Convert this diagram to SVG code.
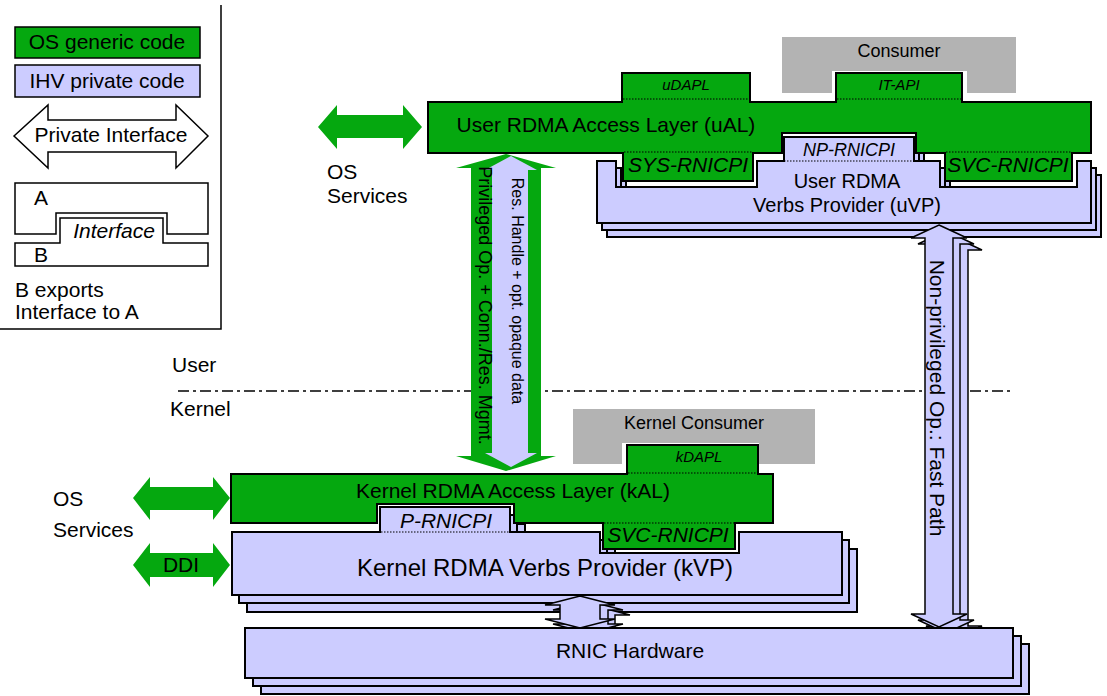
<svg xmlns="http://www.w3.org/2000/svg" width="1107" height="696" viewBox="0 0 1107 696">
  <style>
    text { font-family: "Liberation Sans", Arial, sans-serif; fill: #000; }
    .os { fill: #05a80f; stroke: #000; stroke-width: 2; }
    .ihv { fill: #ccccff; stroke: #000; stroke-width: 2; }
    .ihvs { fill: #ccccff; stroke: #000; stroke-width: 1.5; }
    .cons { fill: #b3b3b3; stroke: none; }
    .garrow { fill: #05a80f; stroke: none; }
    .larrow { fill: #ccccff; stroke: none; }
    .leg { stroke: #000; stroke-width: 1.5; }
    .dot { stroke: #000; stroke-width: 1.2; stroke-dasharray: 1.5 1.5; fill: none; }
    .t21 { font-size: 21px; }
    .t18 { font-size: 18px; }
    .t16 { font-size: 16px; }
    .t15 { font-size: 15px; }
    .mid { text-anchor: middle; }
    .it { font-style: italic; }
  </style>
  <defs>
    <path id="uvp" d="M597,161 H616 V187 H757 V161 H784 V137 H914 V161 H940 V187 H1077 V161 H1091 V223 H597 Z"/>
    <path id="kvp" d="M232,532 H380 V507 H510 V532 H600 V553 H739 V532 H842 V595 H232 Z"/>
    <rect id="rnic" x="245" y="628" width="768" height="50"/>
    <polygon id="fastpath" points="939,225 967,238 953,238 953,614 967,614 939,627 911,614 925,614 925,238 911,238"/>
    <polygon id="hwlink" points="580,596 615,605 600,605 600,619 615,619 580,628 545,619 560,619 560,605 545,605"/>
  </defs>

  <!-- legend -->
  <g id="legend">
    <path d="M221,5 V329 H0" fill="none" stroke="#000" stroke-width="1.5"/>
    <rect x="15" y="27" width="185" height="31" fill="#05a80f" class="leg"/>
    <text x="107" y="48.5" class="t21 mid">OS generic code</text>
    <rect x="15" y="65" width="185" height="32" fill="#ccccff" class="leg"/>
    <text x="107" y="87.5" class="t21 mid">IHV private code</text>
    <polygon points="14,136 48,105 48,120 176,120 176,105 208,136 176,168 176,152 48,152 48,168" fill="#fff" class="leg"/>
    <text x="111" y="142" class="t21 mid">Private Interface</text>
    <path d="M15,183 H208 V234 H167 V213 H56 V234 H15 Z" fill="#fff" class="leg"/>
    <path d="M15,243 H60 V218 H163 V243 H208 V266 H15 Z" fill="#fff" class="leg"/>
    <text x="34" y="205" class="t21">A</text>
    <text x="34" y="262" class="t21">B</text>
    <text x="114" y="238" class="t21 mid it">Interface</text>
    <text x="15" y="297" class="t21">B exports</text>
    <text x="15" y="319" class="t21">Interface to A</text>
  </g>

  <!-- user / kernel boundary -->
  <g id="boundary">
    <line x1="178" y1="391" x2="1010" y2="391" stroke="#000" stroke-width="1.5" stroke-dasharray="11 4 3 4"/>
    <text x="172" y="372" class="t21">User</text>
    <text x="170" y="416" class="t21">Kernel</text>
  </g>

  <!-- user space -->
  <g id="consumer">
    <path class="cons" d="M782,37 H1016 V93 H967 V71 H832 V93 H782 Z"/>
    <text x="899" y="57" class="t18 mid">Consumer</text>
  </g>

  <g id="uvp-node">
    <use href="#uvp" class="ihv" transform="translate(10,14)"/>
    <use href="#uvp" class="ihv" transform="translate(5,7)"/>
    <use href="#uvp" class="ihv"/>
    <line x1="784" y1="161" x2="914" y2="161" class="dot"/>
    <text x="849" y="156" class="t18 mid it">NP-RNICPI</text>
    <text x="847" y="188" class="mid" style="font-size:20px">User RDMA</text>
    <text x="847" y="212" class="mid" style="font-size:20px">Verbs Provider (uVP)</text>
  </g>

  <g id="ual-node">
    <path class="os" d="M428,102 H622 V73 H750 V102 H836 V73 H962 V102 H1091 V153 H1072 V181 H945 V153 H916 V133 H782 V153 H753 V181 H623 V153 H428 Z"/>
    <line x1="623" y1="99" x2="749" y2="99" class="dot"/>
    <line x1="837" y1="99" x2="961" y2="99" class="dot"/>
    <line x1="624" y1="152" x2="752" y2="152" class="dot"/>
    <line x1="946" y1="152" x2="1071" y2="152" class="dot"/>
    <text x="686" y="89.5" class="t15 mid it">uDAPL</text>
    <text x="899" y="89.5" class="t15 mid it">IT-API</text>
    <text x="606" y="132" class="t21 mid">User RDMA Access Layer (uAL)</text>
    <text x="688" y="172" class="t21 mid it">SYS-RNICPI</text>
    <text x="1008" y="172" class="t21 mid it">SVC-RNICPI</text>
  </g>

  <g id="os-services-user">
    <polygon class="garrow" points="318,127 337,105 337,115 403,115 403,105 422,127 403,149 403,138 337,138 337,149"/>
    <text x="327" y="179" class="t21">OS</text>
    <text x="327" y="203" class="t21">Services</text>
  </g>

  <!-- kernel space -->
  <g id="kernel-consumer">
    <path class="cons" d="M573,409 H815 V464 H759 V443 H622 V464 H573 Z"/>
    <text x="694" y="429" class="t18 mid">Kernel Consumer</text>
  </g>

  <g id="kvp-node">
    <use href="#kvp" class="ihv" transform="translate(15,17)"/>
    <use href="#kvp" class="ihv" transform="translate(7,8)"/>
    <use href="#kvp" class="ihv"/>
    <line x1="381" y1="532" x2="509" y2="532" class="dot"/>
    <text x="446" y="528" class="t21 mid it">P-RNICPI</text>
    <text x="545" y="576" class="mid" style="font-size:24px">Kernel RDMA Verbs Provider (kVP)</text>
  </g>

  <g id="kal-node">
    <path class="os" d="M231,474 H627 V445 H758 V474 H773 V523 H735 V549 H603 V523 H514 V504 H377 V523 H231 Z"/>
    <line x1="628" y1="473" x2="757" y2="473" class="dot"/>
    <line x1="604" y1="523" x2="734" y2="523" class="dot"/>
    <text x="699" y="462" class="t15 mid it">kDAPL</text>
    <text x="513" y="498" class="t21 mid">Kernel RDMA Access Layer (kAL)</text>
    <text x="668" y="542" class="t21 mid it">SVC-RNICPI</text>
  </g>

  <g id="os-services-kernel">
    <polygon class="garrow" points="133,498 150,477 150,487 213,487 213,477 230,498 213,520 213,510 150,510 150,520"/>
    <text x="53" y="506" class="t21">OS</text>
    <text x="53" y="537" class="t21">Services</text>
    <polygon class="garrow" points="133,565 150,543 150,553 213,553 213,543 230,565 213,587 213,577 150,577 150,587"/>
    <text x="181" y="572" class="t21 mid">DDI</text>
  </g>

  <!-- connectors -->
  <g id="connectors">
    <polygon class="garrow" points="506,154 556,168 541,168 541,456 556,456 506,471 456,456 471,456 471,168 456,168"/>
    <polygon class="larrow" points="511,156 537,170 528,170 528,453 537,453 511,467 485,453 492,453 492,170 485,170"/>
    <text transform="translate(479,305.5) rotate(90)" class="t18 mid">Privileged Op. + Conn./Res. Mgmt.</text>
    <text transform="translate(512,291) rotate(90)" class="t16 mid">Res. Handle + opt. opaque data</text>

    <use href="#fastpath" class="ihvs" transform="translate(15,12)"/>
    <use href="#fastpath" class="ihvs" transform="translate(7,6)"/>
    <use href="#fastpath" class="ihvs"/>
    <text transform="translate(930,398) rotate(90)" class="t21 mid">Non-privileged Op.: Fast Path</text>

    <use href="#hwlink" class="ihvs" transform="translate(15,10)"/>
    <use href="#hwlink" class="ihvs" transform="translate(8,5)"/>
    <use href="#hwlink" class="ihvs"/>
  </g>

  <g id="rnic-node">
    <use href="#rnic" class="ihv" transform="translate(16,16)"/>
    <use href="#rnic" class="ihv" transform="translate(8,8)"/>
    <use href="#rnic" class="ihv"/>
    <text x="630" y="658" class="t21 mid">RNIC Hardware</text>
  </g>
</svg>
